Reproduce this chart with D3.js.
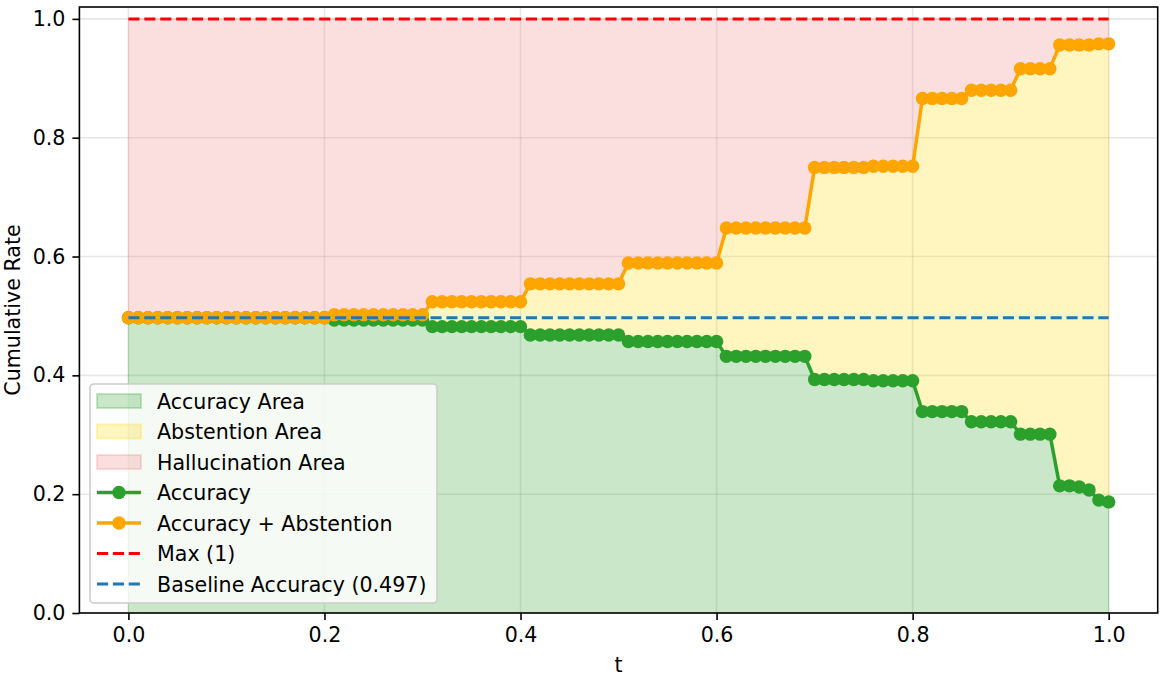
<!DOCTYPE html>
<html>
<head>
<meta charset="utf-8">
<script src="https://cdn.jsdelivr.net/npm/d3@7"></script>
<style>
  html, body { margin: 0; padding: 0; background: #fff; }
  svg { display: block; font-family: "DejaVu Sans", sans-serif; }
</style>
</head>
<body>
<svg id="chart" width="1164" height="676"></svg>
<script>
// ---- data ----
const tValues = [
  0.00,0.01,0.02,0.03,0.04,0.05,0.06,0.07,0.08,0.09,
  0.10,0.11,0.12,0.13,0.14,0.15,0.16,0.17,0.18,0.19,
  0.20,0.21,0.22,0.23,0.24,0.25,0.26,0.27,0.28,0.29,
  0.30,0.31,0.32,0.33,0.34,0.35,0.36,0.37,0.38,0.39,
  0.40,0.41,0.42,0.43,0.44,0.45,0.46,0.47,0.48,0.49,
  0.50,0.51,0.52,0.53,0.54,0.55,0.56,0.57,0.58,0.59,
  0.60,0.61,0.62,0.63,0.64,0.65,0.66,0.67,0.68,0.69,
  0.70,0.71,0.72,0.73,0.74,0.75,0.76,0.77,0.78,0.79,
  0.80,0.81,0.82,0.83,0.84,0.85,0.86,0.87,0.88,0.89,
  0.90,0.91,0.92,0.93,0.94,0.95,0.96,0.97,0.98,0.99,
  1.00
];
const accuracy = [
  0.497,0.497,0.497,0.497,0.497,0.497,0.497,0.497,0.497,0.497,
  0.497,0.497,0.497,0.497,0.497,0.497,0.497,0.497,0.497,0.497,
  0.497,0.493,0.493,0.493,0.493,0.493,0.493,0.493,0.493,0.493,
  0.493,0.482,0.482,0.482,0.482,0.482,0.482,0.482,0.482,0.482,
  0.482,0.468,0.468,0.468,0.468,0.468,0.468,0.468,0.468,0.468,
  0.468,0.457,0.457,0.457,0.457,0.457,0.457,0.457,0.457,0.457,
  0.457,0.432,0.432,0.432,0.432,0.432,0.432,0.432,0.432,0.432,
  0.393,0.393,0.393,0.393,0.393,0.393,0.391,0.391,0.391,0.391,
  0.391,0.339,0.339,0.339,0.339,0.339,0.322,0.322,0.322,0.322,
  0.322,0.301,0.301,0.301,0.301,0.214,0.214,0.212,0.207,0.190,
  0.187
];
const accPlusAbst = [
  0.497,0.497,0.497,0.497,0.497,0.497,0.497,0.497,0.497,0.497,
  0.497,0.497,0.497,0.497,0.497,0.497,0.497,0.497,0.497,0.497,
  0.497,0.502,0.502,0.502,0.502,0.502,0.502,0.502,0.502,0.502,
  0.502,0.524,0.524,0.524,0.524,0.524,0.524,0.524,0.524,0.524,
  0.524,0.554,0.554,0.554,0.554,0.554,0.554,0.554,0.554,0.554,
  0.554,0.589,0.589,0.589,0.589,0.589,0.589,0.589,0.589,0.589,
  0.589,0.648,0.648,0.648,0.648,0.648,0.648,0.648,0.648,0.648,
  0.750,0.750,0.750,0.750,0.750,0.750,0.752,0.752,0.752,0.752,
  0.752,0.866,0.866,0.866,0.866,0.866,0.880,0.880,0.880,0.880,
  0.880,0.916,0.916,0.916,0.916,0.956,0.956,0.956,0.956,0.958,
  0.958
];
const maxValue = 1;
const baselineAccuracy = 0.497;
const xTicks = [0.0, 0.2, 0.4, 0.6, 0.8, 1.0];
const yTicks = [0.0, 0.2, 0.4, 0.6, 0.8, 1.0];
const legendLabels = ["Accuracy Area","Abstention Area","Hallucination Area","Accuracy","Accuracy + Abstention","Max (1)","Baseline Accuracy (0.497)"];

// ---- layout ----
const svg = d3.select("#chart");
const L = 79.4, R = 1157.7, T = 7, B = 613;
const FS = 20.6;
const x = d3.scaleLinear().domain([-0.05, 1.05]).range([L, R]);
const y = d3.scaleLinear().domain([0, 1.02]).range([B, T]);

const data = tValues.map((t, i) => ({ t, acc: accuracy[i], top: accPlusAbst[i] }));

const C = { green: "#2ca02c", orange: "#ffa500", red: "#ff0000", blue: "#1f77b4", gold: "#ffd700", coral: "#f08080" };

// clip
svg.append("defs").append("clipPath").attr("id", "clip")
  .append("rect").attr("x", L).attr("y", T).attr("width", R - L).attr("height", B - T);

const plot = svg.append("g").attr("clip-path", "url(#clip)");

// grid
plot.append("g").selectAll("line").data(xTicks).join("line")
  .attr("x1", d => x(d)).attr("x2", d => x(d)).attr("y1", T).attr("y2", B)
  .attr("stroke", "#b0b0b0").attr("stroke-opacity", 0.3).attr("stroke-width", 1.6);
plot.append("g").selectAll("line").data(yTicks).join("line")
  .attr("y1", d => y(d)).attr("y2", d => y(d)).attr("x1", L).attr("x2", R)
  .attr("stroke", "#b0b0b0").attr("stroke-opacity", 0.3).attr("stroke-width", 1.6);

// areas
const accArea = d3.area().x(d => x(d.t)).y0(y(0)).y1(d => y(d.acc));
const absArea = d3.area().x(d => x(d.t)).y0(d => y(d.acc)).y1(d => y(d.top));
const halArea = d3.area().x(d => x(d.t)).y0(d => y(d.top)).y1(y(maxValue));

plot.append("path").datum(data).attr("d", accArea)
  .attr("fill", C.green).attr("fill-opacity", 0.25)
  .attr("stroke", C.green).attr("stroke-opacity", 0.25).attr("stroke-width", 1);
plot.append("path").datum(data).attr("d", absArea)
  .attr("fill", C.gold).attr("fill-opacity", 0.25)
  .attr("stroke", C.gold).attr("stroke-opacity", 0.25).attr("stroke-width", 1);
plot.append("path").datum(data).attr("d", halArea)
  .attr("fill", C.coral).attr("fill-opacity", 0.25)
  .attr("stroke", C.coral).attr("stroke-opacity", 0.25).attr("stroke-width", 1);

// lines
const accLine = d3.line().x(d => x(d.t)).y(d => y(d.acc));
const topLine = d3.line().x(d => x(d.t)).y(d => y(d.top));

function drawSeries(lineGen, key, color) {
  plot.append("path").datum(data).attr("d", lineGen)
    .attr("fill", "none").attr("stroke", color).attr("stroke-width", 3.5).attr("stroke-linejoin", "round");
  plot.append("g").selectAll("circle").data(data).join("circle")
    .attr("cx", d => x(d.t)).attr("cy", d => y(d[key])).attr("r", 6.7)
    .attr("fill", color);
}
drawSeries(accLine, "acc", C.green);
drawSeries(topLine, "top", C.orange);

// reference lines
plot.append("line").attr("x1", x(0)).attr("x2", x(1)).attr("y1", y(maxValue)).attr("y2", y(maxValue))
  .attr("stroke", C.red).attr("stroke-width", 3).attr("stroke-dasharray", "11.1,4.8");
plot.append("line").attr("x1", x(0)).attr("x2", x(1)).attr("y1", y(baselineAccuracy)).attr("y2", y(baselineAccuracy))
  .attr("stroke", C.blue).attr("stroke-width", 3).attr("stroke-dasharray", "11.1,4.8");

// axes
const xAxis = d3.axisBottom(x).tickValues(xTicks).tickFormat(d3.format(".1f")).tickSize(7).tickPadding(7);
const yAxis = d3.axisLeft(y).tickValues(yTicks).tickFormat(d3.format(".1f")).tickSize(7).tickPadding(7);
const gx = svg.append("g").attr("transform", `translate(0,${B})`).call(xAxis);
const gy = svg.append("g").attr("transform", `translate(${L},0)`).call(yAxis);
[gx, gy].forEach(g => {
  g.select(".domain").remove();
  g.selectAll(".tick line").attr("stroke", "#000").attr("stroke-width", 1.6);
  g.selectAll(".tick text").attr("font-size", FS).attr("font-family", "DejaVu Sans").attr("fill", "#000");
});

// frame
svg.append("rect").attr("x", L).attr("y", T).attr("width", R - L).attr("height", B - T)
  .attr("fill", "none").attr("stroke", "#000").attr("stroke-width", 1.6);

// axis labels
svg.append("text").attr("x", (L + R) / 2).attr("y", 672).attr("text-anchor", "middle")
  .attr("font-size", FS).text("t");
svg.append("text").attr("transform", `translate(20,${(T + B) / 2}) rotate(-90)`).attr("text-anchor", "middle")
  .attr("font-size", FS).text("Cumulative Rate");

// legend
const lg = svg.append("g");
lg.append("rect").attr("x", 90).attr("y", 384).attr("width", 347).attr("height", 219).attr("rx", 4)
  .attr("fill", "#fff").attr("fill-opacity", 0.8).attr("stroke", "#cccccc").attr("stroke-width", 1.6);
const rowY = i => 401 + i * 30.5;
const hx0 = 97, hx1 = 141;
const patches = [[C.green], [C.gold], [C.coral]];
patches.forEach((p, i) => {
  lg.append("rect").attr("x", hx0).attr("y", rowY(i) - 7).attr("width", hx1 - hx0).attr("height", 14)
    .attr("fill", p[0]).attr("fill-opacity", 0.25).attr("stroke", p[0]).attr("stroke-opacity", 0.25).attr("stroke-width", 2);
});
[[C.green, 3], [C.orange, 4]].forEach(([col, i]) => {
  lg.append("line").attr("x1", hx0).attr("x2", hx1).attr("y1", rowY(i)).attr("y2", rowY(i))
    .attr("stroke", col).attr("stroke-width", 3.5);
  lg.append("circle").attr("cx", (hx0 + hx1) / 2).attr("cy", rowY(i)).attr("r", 6.7).attr("fill", col);
});
[[C.red, 5], [C.blue, 6]].forEach(([col, i]) => {
  lg.append("line").attr("x1", hx0).attr("x2", hx1).attr("y1", rowY(i)).attr("y2", rowY(i))
    .attr("stroke", col).attr("stroke-width", 3).attr("stroke-dasharray", "11.1,4.8");
});
lg.selectAll("text.lbl").data(legendLabels).join("text").attr("class", "lbl")
  .attr("x", 157).attr("y", (d, i) => rowY(i) + 7.5)
  .attr("font-size", FS).attr("fill", "#000").text(d => d);
</script>
</body>
</html>
